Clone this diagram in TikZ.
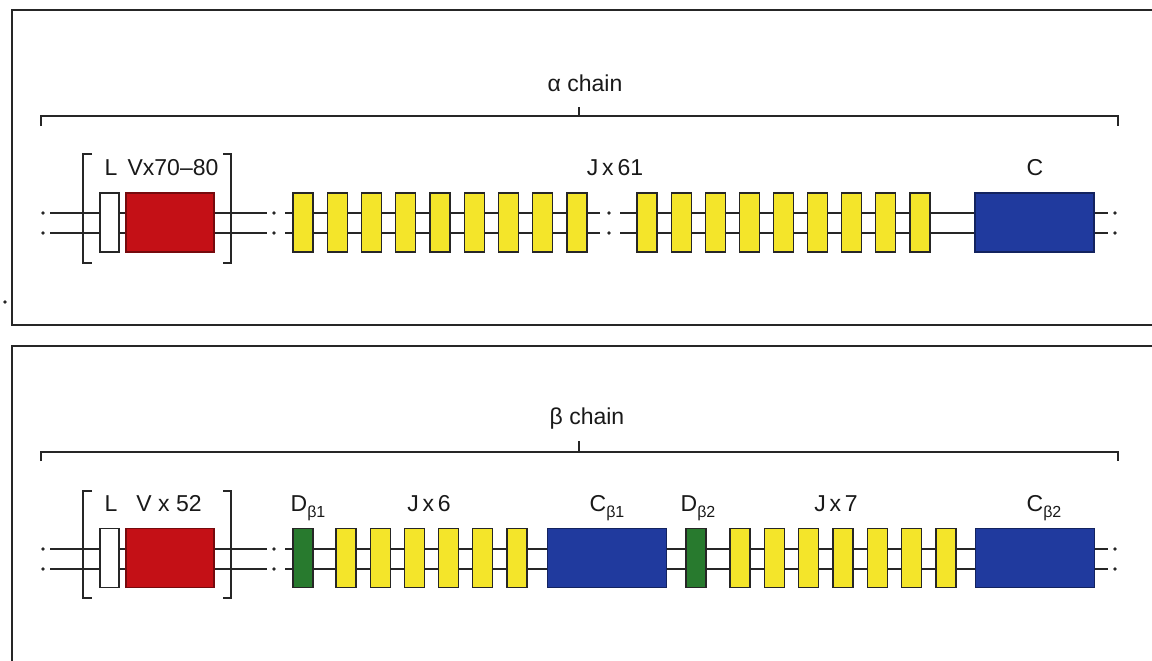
\documentclass[tikz,border=0pt]{standalone}
\usepackage{fontspec}
\setmainfont{Liberation Sans}
\definecolor{jyellow}{RGB}{244,229,42}
\definecolor{vred}{RGB}{196,16,22}
\definecolor{cblue}{RGB}{32,58,158}
\definecolor{dgreen}{RGB}{40,122,46}
\definecolor{ink}{RGB}{38,38,38}
\newcommand\gsub[1]{\raisebox{-6pt}{\fontsize{16}{16}\selectfont #1}}
% chain segment: name, x1, x2, y-centre
\newcommand\chainseg[4]{%
  \coordinate (#1-ua) at (#2,#4-10); \coordinate (#1-ub) at (#3,#4-10);
  \coordinate (#1-la) at (#2,#4+10); \coordinate (#1-lb) at (#3,#4+10);
  \draw[chainline] (#1-ua) -- (#1-ub); \draw[chainline] (#1-la) -- (#1-lb);}
\newcommand\chaindots[3]{%
  \coordinate (#1-u) at (#2,#3-10); \coordinate (#1-l) at (#2,#3+10);
  \fill[ink] (#1-u) circle (1.9); \fill[ink] (#1-l) circle (1.9);}
\begin{document}
\begin{tikzpicture}[x=1pt,y=-1pt,
  frame/.style={draw=ink, line width=2pt},
  brack/.style={draw=ink, line width=1.5pt},
  chainline/.style={draw=ink, line width=1.4pt},
  seg/.style={draw=black!85, line width=1.1pt, inner sep=0pt, minimum height=59pt},
  jseg/.style={seg, fill=jyellow, minimum width=20pt},
  dseg/.style={seg, fill=dgreen, minimum width=20pt},
  lseg/.style={seg, fill=white, minimum width=19pt},
  vseg/.style={seg, fill=vred, draw=vred!60!black, minimum width=88pt},
  cseg/.style={seg, fill=cblue, draw=cblue!60!black, minimum width=119pt},
  lab/.style={font=\fontsize{23}{25}\selectfont, text=black!90, inner sep=0pt, anchor=base}]
\useasboundingbox (0,0) rectangle (1152,661);
\fill[white] (0,0) rectangle (1152,661);

% panel frames
\draw[frame] (1152,10) -- (12,10) -- (12,325) -- (1152,325);
\draw[frame] (1152,346) -- (12,346) -- (12,661);
\fill[ink] (5,302) circle (1.8);

% ===== alpha chain =====
\draw[brack] (41,126) -- (41,116) -- (1118,116) -- (1118,126);
\draw[brack] (579,116) -- (579,107);
\node[lab] (alab) at (585,92) {α chain};

\chainseg{aA}{50}{267}{223}
\chainseg{aB}{285}{600}{223}
\chainseg{aC}{620}{1108}{223}
\chaindots{ad1}{43}{223}
\chaindots{ad2}{274}{223}
\chaindots{ad3}{609}{223}
\chaindots{ad4}{1115}{223}

\draw[brack] (92,154) -- (83,154) -- (83,263) -- (92,263);
\draw[brack] (223,154) -- (231,154) -- (231,263) -- (223,263);

\node[lseg] (aL) at (109.5,222.5) {};
\node[vseg] (aV) at (170,222.5) {};
\foreach \i in {0,...,8} {
  \node[jseg] (aJa\i) at (303+34.25*\i,222.5) {};
  \node[jseg] (aJb\i) at (647+34.125*\i,222.5) {};
}
\node[cseg] (aC) at (1034.5,222.5) {};

\node[lab] (aLl) at (111,175) {L};
\node[lab] (aVl) at (173,175) {Vx70–80};
\node[lab] (aJl) at (615,175) {J\,x\,61};
\node[lab] (aCl) at (1035,175) {C};

% ===== beta chain =====
\draw[brack] (41,461) -- (41,452) -- (1118,452) -- (1118,461);
\draw[brack] (579,452) -- (579,441);
\node[lab] (blab) at (587,424) {β chain};

\chainseg{bA}{50}{267}{559}
\chainseg{bB}{285}{1108}{559}
\chaindots{bd1}{43}{559}
\chaindots{bd2}{274}{559}
\chaindots{bd4}{1115}{559}

\draw[brack] (92,491) -- (83,491) -- (83,598) -- (92,598);
\draw[brack] (223,491) -- (231,491) -- (231,598) -- (223,598);

\node[lseg] (bL) at (109.5,558) {};
\node[vseg] (bV) at (170,558) {};
\node[dseg] (bD1) at (303,558) {};
\foreach \i in {0,...,5} {
  \node[jseg] (bJa\i) at (346+34.2*\i,558) {};
}
\node[cseg] (bC1) at (607,558) {};
\node[dseg] (bD2) at (696,558) {};
\foreach \i in {0,...,6} {
  \node[jseg] (bJb\i) at (740+34.33*\i,558) {};
}
\node[cseg] (bC2) at (1035,558) {};

\node[lab] (bLl) at (111,511) {L};
\node[lab] (bVl) at (169,511) {V x 52};
\node[lab] (bD1l) at (308,511) {D\gsub{β1}};
\node[lab] (bJal) at (429,511) {J\,x\,6};
\node[lab] (bC1l) at (607,511) {C\gsub{β1}};
\node[lab] (bD2l) at (698,511) {D\gsub{β2}};
\node[lab] (bJbl) at (836,511) {J\,x\,7};
\node[lab] (bC2l) at (1044,511) {C\gsub{β2}};
\end{tikzpicture}
\end{document}
